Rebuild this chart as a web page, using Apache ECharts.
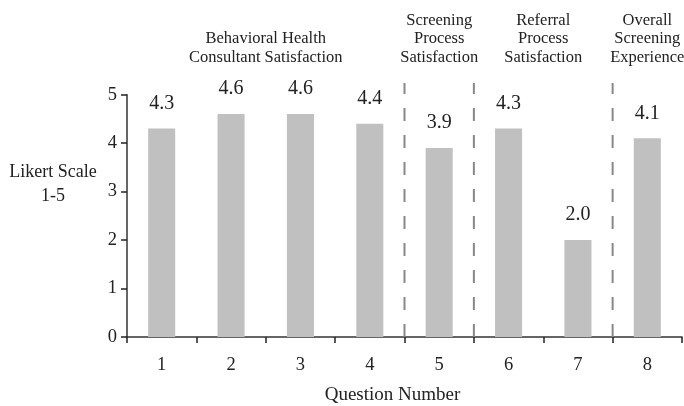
<!DOCTYPE html>
<html>
<head>
<meta charset="utf-8">
<script src="https://cdn.jsdelivr.net/npm/echarts@6/dist/echarts.min.js"></script>
<style>
  html, body { margin: 0; padding: 0; background: #fff; }
  #chart { width: 684px; height: 406px; }
</style>
</head>
<body>
<div id="chart"></div>
<script>
// Survey results: mean Likert rating per question
const questions = ['1', '2', '3', '4', '5', '6', '7', '8'];
const ratings = [4.3, 4.6, 4.6, 4.4, 3.9, 4.3, 2.0, 4.1];
const yTicks = [0, 1, 2, 3, 4, 5];

// Question groups: title and number of questions in each
const groupTitles = [
  'Behavioral Health\nConsultant Satisfaction',
  'Screening\nProcess\nSatisfaction',
  'Referral\nProcess\nSatisfaction',
  'Overall\nScreening\nExperience'
];
const groupSizes = [4, 1, 2, 1];

const FONT = '"Liberation Serif", "DejaVu Serif", serif';
const INK = '#222';

// Group boundaries (in question-index units) where dashed separators go
const boundaries = [];
let acc = 0;
groupSizes.forEach((n, i) => {
  acc += n;
  if (i < groupSizes.length - 1) boundaries.push(acc);
});

const separatorTop = 5.24;

const chart = echarts.init(document.getElementById('chart'), null, { renderer: 'canvas' });

const separatorSeries = boundaries.map(b => ({
  type: 'line',
  xAxisIndex: 1,
  yAxisIndex: 0,
  data: [[b, 0], [b, separatorTop]],
  symbol: 'none',
  clip: false,
  silent: true,
  z: 1,
  lineStyle: { color: '#888', width: 2, type: [13, 14] }
}));

chart.setOption({
  animation: false,
  backgroundColor: '#fff',
  grid: { left: 127, right: 2, top: 94.7, bottom: 69, containLabel: false },
  xAxis: [
    {
      type: 'category',
      data: questions,
      boundaryGap: true,
      axisLine: { lineStyle: { color: '#333', width: 1.5 } },
      axisTick: { show: true, length: 6, lineStyle: { color: '#222', width: 1.5 } },
      axisLabel: { color: INK, fontFamily: FONT, fontSize: 18.5, margin: 19 }
    },
    { type: 'value', min: 0, max: 8, show: false }
  ],
  yAxis: {
    type: 'value',
    min: yTicks[0],
    max: yTicks[yTicks.length - 1],
    interval: 1,
    splitLine: { show: false },
    axisLine: { show: true, lineStyle: { color: '#333', width: 1.5 } },
    axisTick: { show: true, length: 6, lineStyle: { color: '#222', width: 1.5 } },
    axisLabel: { color: INK, fontFamily: FONT, fontSize: 18.5, margin: 10 }
  },
  series: [
    {
      type: 'bar',
      data: ratings,
      barWidth: '39%',
      itemStyle: { color: '#c0c0c0' },
      z: 2,
      label: {
        show: true,
        position: 'top',
        distance: 15,
        color: INK,
        fontFamily: FONT,
        fontSize: 20,
        formatter: p => p.value.toFixed(1)
      }
    }
  ].concat(separatorSeries)
});

// Axis titles and group headings placed from the axis scales
const graphics = [];
groupSizes.reduce((start, n, i) => {
  const center = chart.convertToPixel({ xAxisIndex: 1 }, start + n / 2);
  graphics.push({
    type: 'text',
    x: center,
    y: 66.5,
    style: {
      text: groupTitles[i],
      font: '16.5px ' + FONT,
      fill: INK,
      align: 'center',
      verticalAlign: 'bottom',
      lineHeight: 18.5
    }
  });
  return start + n;
}, 0);

graphics.push({
  type: 'text',
  x: 53,
  y: 184,
  style: {
    text: 'Likert Scale\n1-5',
    font: '18px ' + FONT,
    fill: INK,
    align: 'center',
    verticalAlign: 'middle',
    lineHeight: 24
  }
});
graphics.push({
  type: 'text',
  x: 392.5,
  y: 395,
  style: {
    text: 'Question Number',
    font: '19px ' + FONT,
    fill: INK,
    align: 'center',
    verticalAlign: 'middle'
  }
});

chart.setOption({ graphic: graphics });
</script>
</body>
</html>
